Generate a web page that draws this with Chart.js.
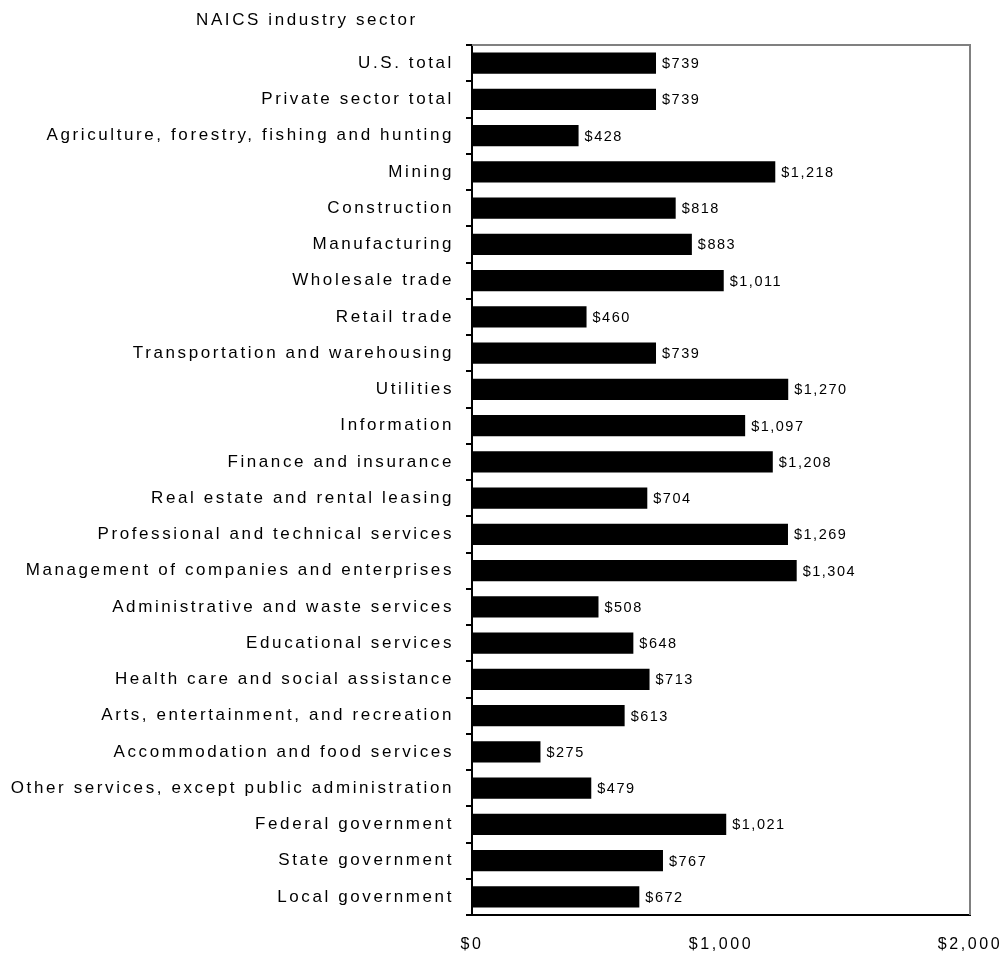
<!DOCTYPE html>
<html>
<head>
<meta charset="utf-8">
<script src="https://cdn.jsdelivr.net/npm/chart.js@4.4.1/dist/chart.umd.min.js"></script>
<style>
  html, body { margin: 0; padding: 0; background: #fff; }
  #wrap { width: 1008px; height: 954px; }
</style>
</head>
<body>
<div id="wrap"><canvas id="wageChart" width="1008" height="954"></canvas></div>
<script>
// Average weekly wage by industry sector
const sectors = [
    'U.S. total', 'Private sector total', 'Agriculture, forestry, fishing and hunting',
    'Mining', 'Construction', 'Manufacturing', 'Wholesale trade', 'Retail trade',
    'Transportation and warehousing', 'Utilities', 'Information', 'Finance and insurance',
    'Real estate and rental leasing', 'Professional and technical services',
    'Management of companies and enterprises', 'Administrative and waste services',
    'Educational services', 'Health care and social assistance',
    'Arts, entertainment, and recreation', 'Accommodation and food services',
    'Other services, except public administration', 'Federal government',
    'State government', 'Local government'
];
const weeklyWage = [
    739, 739, 428, 1218, 818, 883, 1011, 460, 739, 1270, 1097, 1208,
    704, 1269, 1304, 508, 648, 713, 613, 275, 479, 1021, 767, 672
];
const xTicks = [0, 1000, 2000];
const axisTitle = 'NAICS industry sector';

const FONT = "'Liberation Sans', Arial, sans-serif";
const fmt = v => '$' + v.toLocaleString('en-US');

const spacing = {
    id: 'spacing',
    beforeLayout(chart) { chart.ctx.letterSpacing = '2.6px'; },
    beforeDraw(chart) { chart.ctx.letterSpacing = '2.6px'; }
};

const frame = {
    id: 'frame',
    beforeDatasetsDraw(chart) {
        const { ctx, chartArea: a } = chart;
        ctx.save();
        ctx.strokeStyle = '#808080';
        ctx.lineWidth = 2;
        ctx.beginPath();
        ctx.moveTo(a.left, a.top);
        ctx.lineTo(a.right, a.top);
        ctx.lineTo(a.right, a.bottom);
        ctx.stroke();
        ctx.restore();
    },
    afterDraw(chart) {
        const ctx = chart.ctx;
        ctx.save();
        ctx.letterSpacing = '2.6px';
        ctx.font = '17px ' + FONT;
        ctx.fillStyle = '#000';
        ctx.textBaseline = 'middle';
        ctx.textAlign = 'left';
        ctx.fillText(axisTitle, 196, 20);
        ctx.restore();
    }
};

const valueLabels = {
    id: 'valueLabels',
    afterDatasetsDraw(chart) {
        const ctx = chart.ctx;
        const meta = chart.getDatasetMeta(0);
        ctx.save();
        ctx.letterSpacing = '1.5px';
        ctx.font = '14.5px ' + FONT;
        ctx.fillStyle = '#000';
        ctx.textAlign = 'left';
        ctx.textBaseline = 'middle';
        meta.data.forEach((bar, i) => {
            ctx.fillText(fmt(weeklyWage[i]), bar.x + 6, bar.y + 1);
        });
        ctx.restore();
    }
};

const ctx = document.getElementById('wageChart').getContext('2d');
const wageChart = new Chart(ctx, {
    type: 'bar',
    data: {
        labels: sectors,
        datasets: [{
            data: weeklyWage,
            backgroundColor: '#000',
            borderWidth: 0,
            barPercentage: 0.58,
            categoryPercentage: 1
        }]
    },
    options: {
        indexAxis: 'y',
        responsive: false,
        animation: false,
        layout: { padding: { top: 45, right: 38, left: 0, bottom: 0 } },
        plugins: {
            legend: { display: false },
            tooltip: { enabled: false }
        },
        scales: {
            x: {
                min: 0,
                max: 2000,
                afterFit: s => { s.height = 39; s.paddingLeft = 0; s.paddingRight = 0; },
                afterBuildTicks: s => { s.ticks = xTicks.map(v => ({ value: v })); },
                grid: { display: false, drawTicks: false },
                border: { display: true, color: '#000', width: 2 },
                ticks: {
                    padding: 20,
                    maxRotation: 0,
                    color: '#000',
                    font: { family: FONT, size: 16 },
                    callback: v => fmt(v)
                }
            },
            y: {
                afterFit: s => { s.width = 472; s.paddingTop = 0; s.paddingBottom = 0; },
                grid: {
                    offset: true,
                    drawOnChartArea: false,
                    drawTicks: true,
                    tickLength: 6,
                    color: '#000',
                    lineWidth: 2
                },
                border: { display: true, color: '#000', width: 2 },
                ticks: {
                    padding: 12,
                    autoSkip: false,
                    color: '#000',
                    font: { family: FONT, size: 17 }
                }
            }
        }
    },
    plugins: [spacing, frame, valueLabels]
});
</script>
</body>
</html>
